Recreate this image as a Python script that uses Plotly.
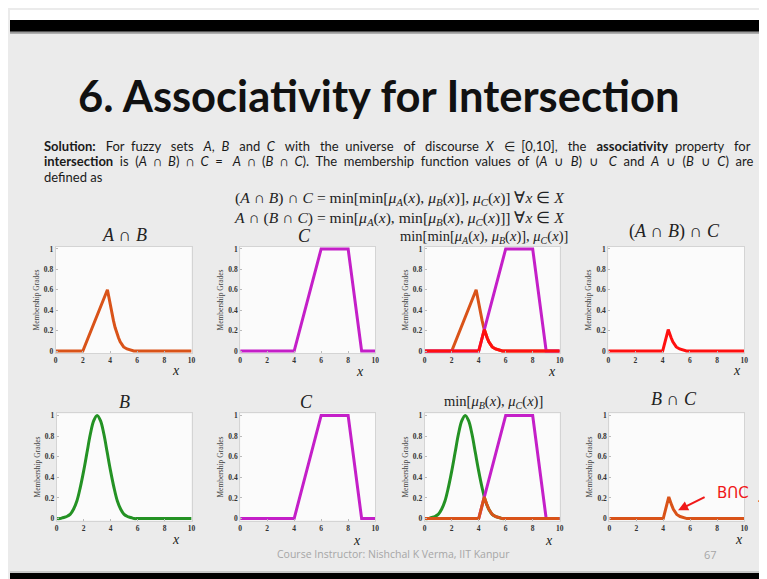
import plotly.graph_objects as go

# ---------------- data ----------------
x_C = [0, 4, 6, 8, 9, 10]
y_C = [0, 0, 1, 1, 0, 0]

x_B = [0, 0.25, 0.5, 0.75, 1.0, 1.25, 1.5, 1.75, 2.0, 2.25, 2.5, 2.75, 3.0,
       3.25, 3.5, 3.75, 4.0, 4.25, 4.5, 4.75, 5.0, 5.25, 5.5, 5.75, 6.0, 10]
y_B = [0.00, 0.00, 0.01, 0.02, 0.04, 0.09, 0.17, 0.30, 0.46, 0.64, 0.82, 0.95, 1.00,
       0.95, 0.82, 0.64, 0.46, 0.30, 0.17, 0.09, 0.04, 0.02, 0.01, 0.00, 0.00, 0.00]

x_AB = [0, 2, 3.81, 3.875, 4.0, 4.125, 4.25, 4.375, 4.5, 4.625, 4.75, 4.875,
        5.0, 5.25, 5.5, 5.75, 6.0, 10]
y_AB = [0, 0, 0.60, 0.55, 0.46, 0.37, 0.30, 0.23, 0.17, 0.13, 0.09, 0.06,
        0.04, 0.02, 0.01, 0.00, 0.00, 0]

x_BC = [0, 4, 4.41, 4.5, 4.625, 4.75, 4.875, 5.0, 5.25, 5.5, 5.75, 6.0, 10]
y_BC = [0, 0, 0.21, 0.17, 0.13, 0.09, 0.06, 0.04, 0.02, 0.01, 0.00, 0.00, 0]

x_ticks = [0, 2, 4, 6, 8, 10]
y_ticks = [0, 0.2, 0.4, 0.6, 0.8, 1]
y_tick_text = ["0", "0.2", "0.4", "0.6", "0.8", "1"]

ORANGE = "#D95319"
MAGENTA = "#C41FC8"
GREEN = "#249224"
RED = "#FF1010"

W, H = 767, 579
def X(p): return p / W
def Y(p): return 1 - p / H

fig = go.Figure()

# panel boxes in pixels: (left, right, top(y=1), bottom(y=0))
panels = [
    (46, 183, 241, 344), (232, 368, 241, 344), (418, 554, 241, 344), (603, 740, 241, 344),
    (47, 183, 409, 513), (232, 368, 409, 513), (418, 554, 409, 513), (604, 740, 409, 513),
]
panel_traces = [
    [(x_AB, y_AB, ORANGE, "linear")],
    [(x_C, y_C, MAGENTA, "linear")],
    [(x_AB, y_AB, ORANGE, "linear"), (x_C, y_C, MAGENTA, "linear"), (x_BC, y_BC, RED, "linear")],
    [(x_BC, y_BC, RED, "linear")],
    [(x_B, y_B, GREEN, "spline")],
    [(x_C, y_C, MAGENTA, "linear")],
    [(x_B, y_B, GREEN, "spline"), (x_C, y_C, MAGENTA, "linear"), (x_BC, y_BC, ORANGE, "linear")],
    [(x_BC, y_BC, ORANGE, "linear")],
]

PAD = 0.02
TICKFONT = dict(family="Liberation Serif, serif", size=7.5, color="#333", weight="bold")
layout_axes = {}
for i, ((l, r, t, b), trs) in enumerate(zip(panels, panel_traces), start=1):
    unit = b - t
    dom_top = t - PAD * unit
    dom_bot = b + PAD * unit
    xa = "x" if i == 1 else f"x{i}"
    ya = "y" if i == 1 else f"y{i}"
    for (xs, ys, col, shp) in trs:
        fig.add_trace(go.Scatter(x=xs, y=ys, mode="lines", xaxis=xa, yaxis=ya,
                                 line=dict(color=col, width=3, shape=shp),
                                 showlegend=False, hoverinfo="skip"))
    layout_axes["xaxis" if i == 1 else f"xaxis{i}"] = dict(
        domain=[X(l), X(r)], anchor=ya, range=[0, 10], tickvals=x_ticks,
        showline=True, mirror=True, linecolor="#d4d4d4", linewidth=1,
        ticks="inside", ticklen=2, tickcolor="#bbb", tickfont=TICKFONT,
        showgrid=False, zeroline=False, fixedrange=True)
    layout_axes["yaxis" if i == 1 else f"yaxis{i}"] = dict(
        domain=[Y(dom_bot), Y(dom_top)], anchor=xa, range=[-PAD, 1 + PAD],
        tickvals=y_ticks, ticktext=y_tick_text,
        showline=True, mirror=True, linecolor="#d4d4d4", linewidth=1,
        ticks="inside", ticklen=2, tickcolor="#bbb", tickfont=TICKFONT,
        showgrid=False, zeroline=False, fixedrange=True,
        title=dict(text="Membership Grades", standoff=3,
                   font=dict(family="Liberation Serif, serif", size=7.5, color="#444")))

fig.update_layout(**layout_axes)

ann = []
def text(px, py, s, size, color="#222", family="Liberation Serif, serif", xanchor="center"):
    ann.append(dict(x=X(px), y=Y(py), xref="paper", yref="paper", text=s, showarrow=False,
                    xanchor=xanchor, yanchor="middle",
                    font=dict(family=family, size=size, color=color)))

def justify(s, n_extra):
    words = s.split(" ")
    gaps = len(words) - 1
    out = words[0]
    acc = 0
    for k, w in enumerate(words[1:], start=1):
        target = round(n_extra * k / gaps)
        add = target - acc
        acc = target
        out += " " + "\u00a0" * add + w
    return out

# title
text(67, 86, "<b>6. Associativity for Intersection</b>", 43.5, "#111", "Lato, sans-serif", "left")

BODY = "Lato, Open Sans, sans-serif"
line1 = ("<b>Solution:</b> For fuzzy sets <i>A</i>, <i>B</i> and <i>C</i> with the universe of discourse "
         "<i>X</i> ∈ [0,10], the <b>associativity</b> property for")
line2 = ("<b>intersection</b> is (<i>A</i> ∩ <i>B</i>) ∩ <i>C</i> = <i>A</i> ∩ (<i>B</i> ∩ <i>C</i>). "
         "The membership function values of (<i>A</i> ∪ <i>B</i>) ∪ <i>C</i> and <i>A</i> ∪ (<i>B</i> ∪ <i>C</i>) are")
text(32, 137, justify(line1, 31), 13, "#1a1a1a", BODY, "left")
text(32, 152, justify(line2, 31), 13, "#1a1a1a", BODY, "left")
text(32, 168, "defined as", 13, "#1a1a1a", BODY, "left")

mu = lambda s: f"<i>μ</i><sub><i>{s}</i></sub>(<i>x</i>)"
text(393, 190, f"(<i>A</i> ∩ <i>B</i>) ∩ <i>C</i> = min[min[{mu('A')}, {mu('B')}], {mu('C')}] ∀<i>x</i> ∈ <i>X</i>", 15.6)
text(393, 210, f"<i>A</i> ∩ (<i>B</i> ∩ <i>C</i>) = min[{mu('A')}, min[{mu('B')}, {mu('C')}]] ∀<i>x</i> ∈ <i>X</i>", 15.6)

# panel titles
text(115, 227, "<i>A</i> ∩ <i>B</i>", 18)
text(297, 228, "<i>C</i>", 18)
text(478, 229, f"min[min[{mu('A')}, {mu('B')}], {mu('C')}]", 14.5)
text(670, 223, "(<i>A</i> ∩ <i>B</i>) ∩ <i>C</i>", 18)
text(115, 395, "<i>B</i>", 18)
text(299, 395, "<i>C</i>", 18)
text(487, 395, f"min[{mu('B')}, {mu('C')}]", 14.5)
text(669, 392, "<i>B</i> ∩ <i>C</i>", 18)

# x labels
for (px_, py_) in [(167, 364), (353, 365), (546, 365), (733, 364),
                   (167, 534), (350, 535), (543, 535), (735, 534)]:
    text(px_, py_, "<i>x</i>", 14)

# handwritten note
ann.append(dict(x=5.1, y=0.08, xref="x8", yref="y8", ax=28, ay=-14, axref="pixel", ayref="pixel",
                text="", showarrow=True, arrowhead=2, arrowsize=1, arrowwidth=2, arrowcolor="#F01818"))
text(729, 487, "BՈC", 15, "#F01818", "DejaVu Sans, sans-serif")
text(755, 491, ".", 14, "#F01818", "DejaVu Sans, sans-serif")

# footer
text(387, 549, "Course Instructor: Nishchal K Verma, IIT Kanpur", 10.5, "#a6a6a6", "Open Sans, sans-serif")
text(706, 549, "67", 11, "#a6a6a6", "Open Sans, sans-serif")

shapes = [
    dict(type="rect", xref="paper", yref="paper", x0=0, x1=1, y0=Y(10), y1=1,
         fillcolor="#ffffff", line=dict(width=0), layer="below"),
    dict(type="rect", xref="paper", yref="paper", x0=0, x1=1, y0=Y(22), y1=Y(10),
         fillcolor="#000000", line=dict(width=0), layer="below"),
    dict(type="rect", xref="paper", yref="paper", x0=0, x1=1, y0=Y(24), y1=Y(22),
         fillcolor="#9a9a9a", line=dict(width=0), layer="below"),
    dict(type="rect", xref="paper", yref="paper", x0=0, x1=1, y0=0, y1=Y(568),
         fillcolor="#000000", line=dict(width=0), layer="below"),
    dict(type="rect", xref="paper", yref="paper", x0=0, x1=1, y0=Y(568), y1=Y(566),
         fillcolor="#c8c8c8", line=dict(width=0), layer="below"),
]

fig.update_layout(
    width=W, height=H, margin=dict(l=0, r=0, t=0, b=0),
    paper_bgcolor="#ebebeb", plot_bgcolor="#fbfbfb",
    annotations=ann, shapes=shapes, showlegend=False,
)

fig.write_html("out.html")
